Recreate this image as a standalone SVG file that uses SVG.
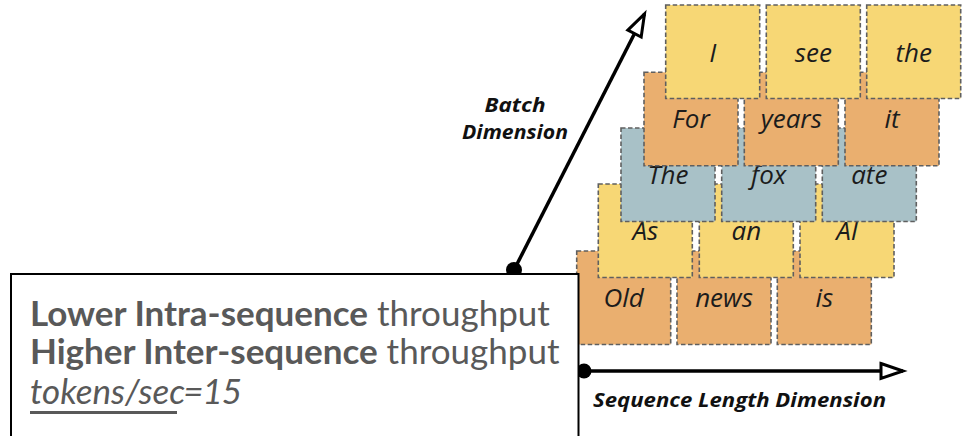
<svg xmlns="http://www.w3.org/2000/svg" width="968" height="436" viewBox="0 0 968 436">
<style>
.tile{stroke:#5f5f5f;stroke-width:1.6;stroke-dasharray:4.5 2.5}
.y{fill:#f7d775}.o{fill:#eaaf6f}.b{fill:#a8c1c7}
.w{font-family:"Open Sans","DejaVu Sans",sans-serif;font-style:italic;font-size:26px;fill:#1c1c1c;text-anchor:middle}
.ax{font-family:"Open Sans","DejaVu Sans",sans-serif;font-style:italic;font-weight:bold;font-size:20px;fill:#111}
.conn{stroke:#000;stroke-width:3.5;fill:none}
.box{font-family:Lato,"Liberation Sans",sans-serif;font-size:35px;fill:#595959}
</style>
<defs>
<marker id="ah" markerUnits="userSpaceOnUse" markerWidth="34" markerHeight="26" viewBox="-4 -13 34 26" refX="22" refY="0" orient="auto">
<path d="M0,-7.5 L22,0 L0,7.5 Z" fill="#fff" stroke="#000" stroke-width="3"/>
</marker>
</defs>

<g id="row-old">
<g id="tile-old"><rect class="tile o" x="576.7" y="251" width="94" height="93.5"/><text class="w" x="623.7" y="307">Old</text></g>
<g id="tile-news"><rect class="tile o" x="677" y="251" width="94" height="93.5"/><text class="w" x="724" y="307">news</text></g>
<g id="tile-is"><rect class="tile o" x="777.3" y="251" width="94" height="93.5"/><text class="w" x="824.3" y="307">is</text></g>
</g>
<g id="row-as">
<g id="tile-as"><rect class="tile y" x="598.3" y="184" width="94" height="93.5"/><text class="w" x="645.3" y="240">As</text></g>
<g id="tile-an"><rect class="tile y" x="699.3" y="184" width="94" height="93.5"/><text class="w" x="746.3" y="240">an</text></g>
<g id="tile-ai"><rect class="tile y" x="800" y="184" width="94" height="93.5"/><text class="w" x="847" y="240">AI</text></g>
</g>
<g id="row-the">
<g id="tile-the1"><rect class="tile b" x="621" y="128" width="94" height="93.5"/><text class="w" x="668" y="184">The</text></g>
<g id="tile-fox"><rect class="tile b" x="721.7" y="128" width="94" height="93.5"/><text class="w" x="768.7" y="184">fox</text></g>
<g id="tile-ate"><rect class="tile b" x="822.3" y="128" width="94" height="93.5"/><text class="w" x="869.3" y="184">ate</text></g>
</g>
<g id="row-for">
<g id="tile-for"><rect class="tile o" x="644" y="72.3" width="94" height="93.5"/><text class="w" x="691" y="128.3">For</text></g>
<g id="tile-years"><rect class="tile o" x="744.3" y="72.3" width="94" height="93.5"/><text class="w" x="791.3" y="128.3">years</text></g>
<g id="tile-it"><rect class="tile o" x="845" y="72.3" width="94" height="93.5"/><text class="w" x="892" y="128.3">it</text></g>
</g>
<g id="row-i">
<g id="tile-i"><rect class="tile y" x="665.7" y="5" width="94" height="93.5"/><text class="w" x="712.7" y="61.5">I</text></g>
<g id="tile-see"><rect class="tile y" x="766.3" y="5" width="94" height="93.5"/><text class="w" x="813.3" y="61.5">see</text></g>
<g id="tile-the2"><rect class="tile y" x="866.7" y="5" width="94" height="93.5"/><text class="w" x="913.7" y="61.5">the</text></g>
</g>

<g id="connectors">
<line class="conn" x1="514" y1="270" x2="644.5" y2="14" marker-end="url(#ah)"/>
<circle cx="514" cy="270" r="8" fill="#000"/>
<line class="conn" x1="584" y1="371" x2="903" y2="371" marker-end="url(#ah)"/>
<circle cx="584" cy="371" r="7.5" fill="#000"/>
</g>

<g id="label-batch">
<text class="ax" x="515" y="112" text-anchor="middle" textLength="61" lengthAdjust="spacingAndGlyphs">Batch</text>
<text class="ax" x="515" y="139" text-anchor="middle" textLength="106" lengthAdjust="spacingAndGlyphs">Dimension</text>
</g>
<g id="label-seq">
<text class="ax" x="593" y="407" textLength="293" lengthAdjust="spacingAndGlyphs">Sequence Length Dimension</text>
</g>

<g id="summary-box">
<rect x="11" y="274" width="567.5" height="170" fill="#fff" stroke="#000" stroke-width="2"/>
<text class="box" x="30" y="326"><tspan font-weight="bold">Lower Intra-sequence</tspan> throughput</text>
<text class="box" x="30" y="364"><tspan font-weight="bold">Higher Inter-sequence</tspan> throughput</text>
<text class="box" x="30" y="404" font-style="italic" font-size="34"><tspan>tokens/sec</tspan><tspan dx="-2" letter-spacing="-1">=15</tspan></text>
<line x1="30" y1="412.5" x2="177" y2="412.5" stroke="#595959" stroke-width="3"/>
</g>
</svg>
